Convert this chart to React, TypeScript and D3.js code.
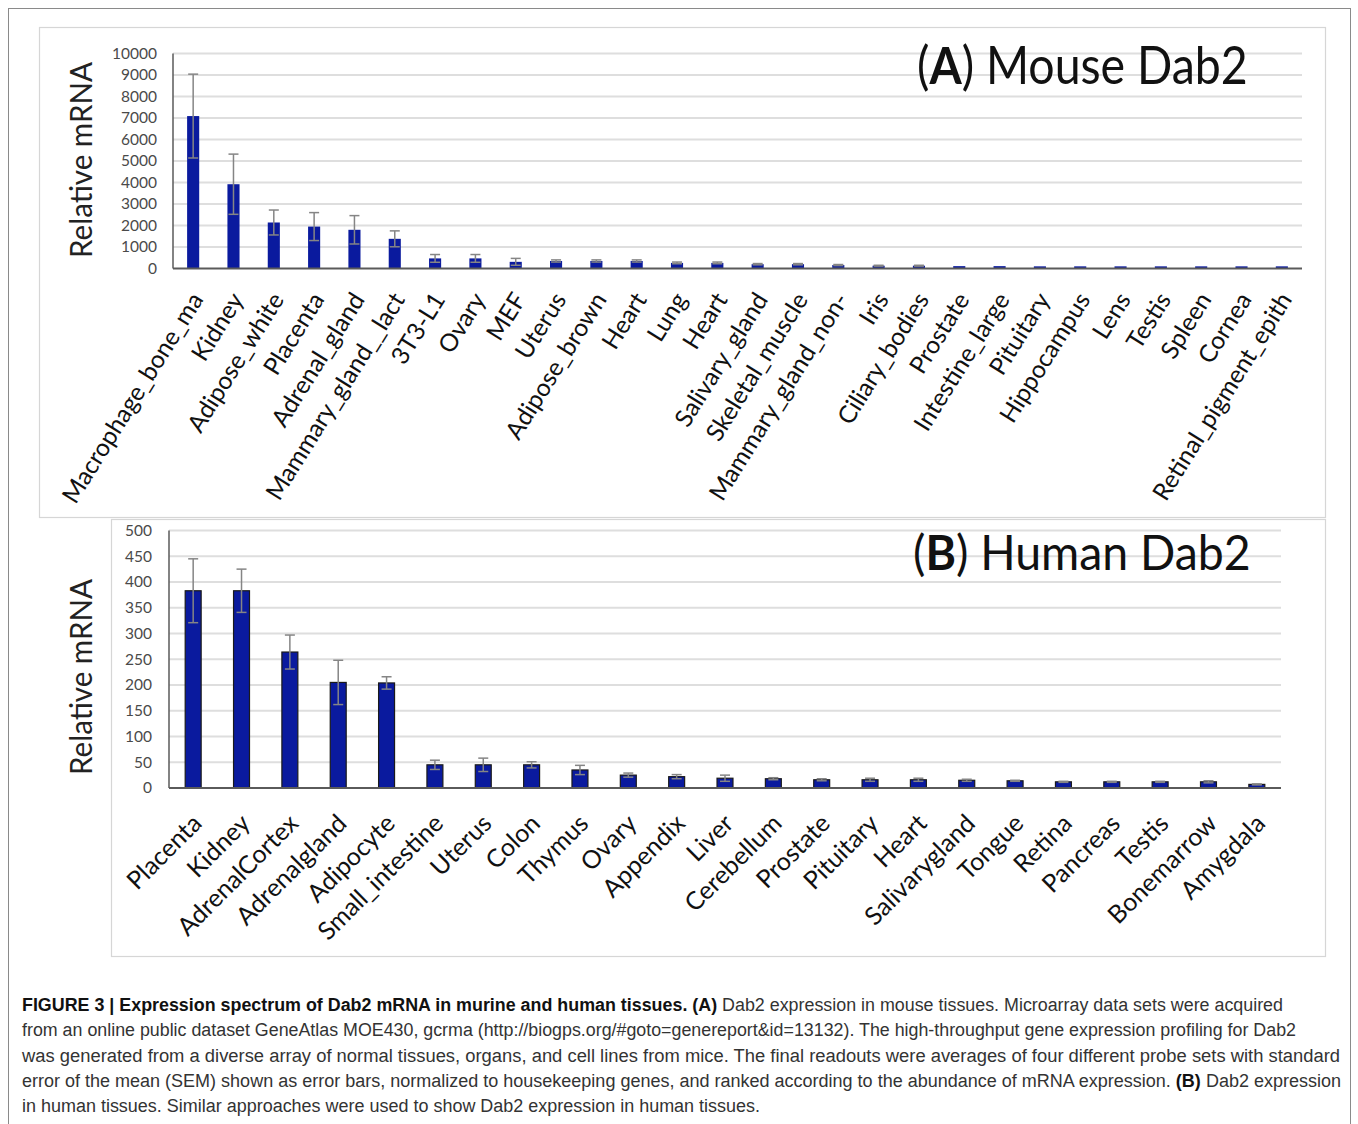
import React from 'react';
import * as d3 from 'd3';

// ---------- Data ----------
const mouseTissues = [
  'Macrophage_bone_ma', 'Kidney', 'Adipose_white', 'Placenta', 'Adrenal_gland',
  'Mammary_gland__lact', '3T3-L1', 'Ovary', 'MEF', 'Uterus', 'Adipose_brown', 'Heart',
  'Lung', 'Heart', 'Salivary_gland', 'Skeletal_muscle', 'Mammary_gland_non-', 'Iris',
  'Ciliary_bodies', 'Prostate', 'Intestine_large', 'Pituitary', 'Hippocampus', 'Lens',
  'Testis', 'Spleen', 'Cornea', 'Retinal_pigment_epith',
];
const mouseValues = [
  7090, 3920, 2140, 1950, 1800, 1380, 470, 470, 310, 350, 350, 350,
  260, 260, 200, 200, 160, 130, 130, 110, 110, 100, 100, 100, 100, 100, 100, 100,
];
const mouseSem = [
  1950, 1400, 580, 650, 660, 370, 180, 180, 160, 50, 50, 50,
  40, 40, 30, 30, 25, 20, 20, 0, 0, 0, 0, 0, 0, 0, 0, 0,
];
const mouseTicks = [0, 1000, 2000, 3000, 4000, 5000, 6000, 7000, 8000, 9000, 10000];

const humanTissues = [
  'Placenta', 'Kidney', 'AdrenalCortex', 'Adrenalgland', 'Adipocyte', 'Small_intestine',
  'Uterus', 'Colon', 'Thymus', 'Ovary', 'Appendix', 'Liver', 'Cerebellum', 'Prostate',
  'Pituitary', 'Heart', 'Salivarygland', 'Tongue', 'Retina', 'Pancreas', 'Testis',
  'Bonemarrow', 'Amygdala',
];
const humanValues = [
  383, 383, 264, 205, 204, 45, 45, 45, 35, 25, 22, 19, 18, 16,
  16, 16, 15, 14, 12, 12, 12, 12, 7,
];
const humanSem = [
  62, 42, 33, 43, 12, 9, 13, 6, 9, 4, 4, 6, 2, 2,
  3, 3, 2, 1, 1, 1, 1, 2, 1,
];
const humanTicks = [0, 50, 100, 150, 200, 250, 300, 350, 400, 450, 500];

const captionLines = [
  [
    { t: 'FIGURE 3 | Expression spectrum of Dab2 mRNA in murine and human tissues. (A)', b: true },
    { t: ' Dab2 expression in mouse tissues. Microarray data sets were acquired', b: false },
  ],
  [{ t: 'from an online public dataset GeneAtlas MOE430, gcrma (http://biogps.org/#goto=genereport&id=13132). The high-throughput gene expression profiling for Dab2', b: false }],
  [{ t: 'was generated from a diverse array of normal tissues, organs, and cell lines from mice. The final readouts were averages of four different probe sets with standard', b: false }],
  [
    { t: 'error of the mean (SEM) shown as error bars, normalized to housekeeping genes, and ranked according to the abundance of mRNA expression. ', b: false },
    { t: '(B)', b: true },
    { t: ' Dab2 expression', b: false },
  ],
  [{ t: 'in human tissues. Similar approaches were used to show Dab2 expression in human tissues.', b: false }],
];
const captionWidths = [1261, 1274, 1318, 1319, 738];

const CHART_FONT = 'Lato, "Open Sans", "DejaVu Sans", sans-serif';

type PanelProps = {
  tissues: string[];
  values: number[];
  sem: number[];
  ticks: number[];
  x0: number; x1: number; yTop: number; yBottom: number;
  barRatio: number; capW: number; barStroke: string | null;
  labelAngle: number; labelSize: number; labelDx: number; labelDy: number;
  tickRight: number; tickSize: number;
  letter: string; title: string; titleX: number; titleY: number; titleSize: number; titleScale: number;
  axisTitleX: number; axisTitleY: number;
};

function Panel(p: PanelProps) {
  const x = d3.scaleBand<number>().domain(d3.range(p.tissues.length)).range([p.x0, p.x1]).paddingInner(0).paddingOuter(0);
  const yMax = p.ticks[p.ticks.length - 1];
  const y = d3.scaleLinear().domain([0, yMax]).range([p.yBottom, p.yTop]);
  const bw = x.bandwidth() * p.barRatio;
  return (
    <g>
      {p.ticks.map((t) => (
        <g key={'g' + t}>
          {t > 0 && (
            <line x1={p.x0} x2={p.x1} y1={y(t)} y2={y(t)} stroke="#dedede" strokeWidth={2} />
          )}
          <text x={p.tickRight} y={y(t)} dy="0.35em" textAnchor="end" fontSize={p.tickSize}
            fontFamily={CHART_FONT} fill="#4a4a4a">{t}</text>
        </g>
      ))}
      {p.values.map((v, i) => {
        const cx = (x(i) as number) + x.bandwidth() / 2;
        return (
          <rect key={'b' + i} x={cx - bw / 2} y={y(v)} width={bw} height={p.yBottom - y(v)}
            fill="#0a1a9e" stroke={p.barStroke || 'none'} strokeWidth={p.barStroke ? 1.2 : 0} />
        );
      })}
      {p.values.map((v, i) => {
        const s = p.sem[i];
        if (!s) return null;
        const cx = (x(i) as number) + x.bandwidth() / 2;
        return (
          <g key={'e' + i} stroke="#858585" strokeWidth={1.5}>
            <line x1={cx} x2={cx} y1={y(v + s)} y2={y(Math.max(0, v - s))} />
            <line x1={cx - p.capW / 2} x2={cx + p.capW / 2} y1={y(v + s)} y2={y(v + s)} />
            <line x1={cx - p.capW / 2} x2={cx + p.capW / 2} y1={y(Math.max(0, v - s))} y2={y(Math.max(0, v - s))} />
          </g>
        );
      })}
      <line x1={p.x0} x2={p.x0} y1={p.yTop} y2={p.yBottom} stroke="#5a5a5a" strokeWidth={1.5} />
      <line x1={p.x0} x2={p.x1} y1={p.yBottom} y2={p.yBottom} stroke="#5a5a5a" strokeWidth={2.2} />
      {p.tissues.map((name, i) => {
        const cx = (x(i) as number) + x.bandwidth() / 2;
        const ax = cx + p.labelDx;
        const ay = p.yBottom + p.labelDy;
        return (
          <text key={'l' + i} x={ax} y={ay} textAnchor="end" fontSize={p.labelSize}
            fontFamily={CHART_FONT} fill="#111" transform={`rotate(${p.labelAngle},${ax},${ay})`}>{name}</text>
        );
      })}
      <text x={p.axisTitleX} y={p.axisTitleY} textAnchor="middle" fontSize={30} fontFamily={CHART_FONT}
        fill="#222" textLength={196} lengthAdjust="spacingAndGlyphs"
        transform={`rotate(-90,${p.axisTitleX},${p.axisTitleY})`}>Relative mRNA</text>
      <g transform={`translate(${p.titleX},${p.titleY}) scale(${p.titleScale},1)`}>
        <text x={0} y={0} fontSize={p.titleSize} fontFamily={CHART_FONT} fill="#111">
          (<tspan fontWeight="bold">{p.letter}</tspan>{') ' + p.title}
        </text>
      </g>
    </g>
  );
}

export default function App() {
  return (
    <svg width={1358} height={1124} style={{ position: 'absolute', left: 0, top: 0, background: '#fff' }}>
      <rect x={0} y={0} width={1358} height={1124} fill="#fff" />
      <rect x={8.5} y={8.5} width={1342} height={1130} fill="none" stroke="#8a8a8a" strokeWidth={1} />
      <rect x={39.5} y={27.5} width={1286} height={490} fill="none" stroke="#d6d6d6" strokeWidth={1.2} />
      <rect x={111.5} y={519.5} width={1214} height={437} fill="none" stroke="#d6d6d6" strokeWidth={1.2} />
      <Panel
        tissues={mouseTissues} values={mouseValues} sem={mouseSem} ticks={mouseTicks}
        x0={173} x1={1302} yTop={53.5} yBottom={268.5}
        barRatio={0.3} capW={10} barStroke={null}
        labelAngle={-58} labelSize={24.5} labelDx={11} labelDy={31}
        tickRight={157} tickSize={15.5}
        letter="A" title="Mouse Dab2" titleX={917} titleY={84} titleSize={52} titleScale={0.893}
        axisTitleX={92} axisTitleY={160}
      />
      <Panel
        tissues={humanTissues} values={humanValues} sem={humanSem} ticks={humanTicks}
        x0={169} x1={1281} yTop={530.5} yBottom={788}
        barRatio={0.33} capW={10} barStroke="#1a1a1a"
        labelAngle={-45} labelSize={25} labelDx={10} labelDy={37}
        tickRight={152} tickSize={15.5}
        letter="B" title="Human Dab2" titleX={913} titleY={570} titleSize={48} titleScale={0.967}
        axisTitleX={92} axisTitleY={677}
      />
      {captionLines.map((line, li) => (
        <text key={'c' + li} x={22} y={1011 + li * 25.3} fontSize={18}
          fontFamily='"Liberation Sans", Arial, sans-serif' fill="#333"
          textLength={captionWidths[li]} lengthAdjust="spacingAndGlyphs">
          {line.map((seg, si) => (
            <tspan key={si} fontWeight={seg.b ? 'bold' : 'normal'} fill={seg.b ? '#111' : '#333'}>{seg.t}</tspan>
          ))}
        </text>
      ))}
    </svg>
  );
}
